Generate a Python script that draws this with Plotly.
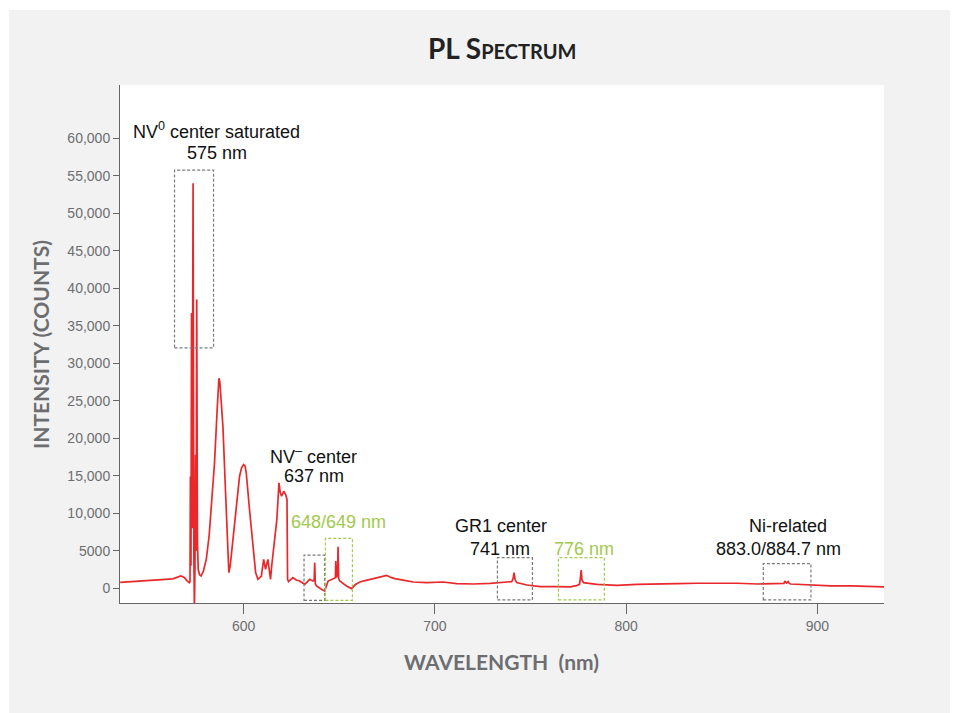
import plotly.graph_objects as go

# ---- data ----
wavelength_nm = [
    535.5, 545, 555, 563, 567.2, 569, 570.5, 571.7, 572.0, 572.2, 572.5, 572.8, 573.1,
    573.6, 574.0, 574.3, 574.6, 574.9, 575.2, 575.5, 575.9, 576.3, 577.0, 577.8, 579,
    580.5, 582, 583.1, 584.8, 586.2, 587.1, 587.6, 588.2, 589.2, 590.6, 591.5, 592.3,
    593.0, 594.4, 596.2, 597.9, 599.0, 600.0, 600.8, 601.4, 603.1, 604.9, 606.3, 607.5,
    609.3, 610.5, 611.5, 612.7, 613.6, 614.1, 614.7, 616.2, 617.4, 618.5, 619.2, 619.9,
    621.0, 622.0, 622.7, 623.0, 623.5, 625.8, 627.5, 629.3, 632.0, 634.6, 636.3, 636.9,
    637.2, 637.5, 638.1, 640.7, 642.4, 644.2, 646, 647.7, 648.0, 648.2, 648.5, 649.1,
    649.4, 649.7, 650.3, 653.8, 656.4, 658.5, 660.8, 663, 666, 668.5, 671.2, 674.8, 677,
    679.1, 683.4, 688.7, 695.7, 700, 704.4, 711.4, 720.1, 728.9, 735.8, 740.2, 740.9,
    741.4, 741.9, 742.8, 748.1, 755.1, 763.8, 770.8, 774, 775.6, 776.1, 776.5, 776.9,
    777.7, 784.7, 795.2, 805.7, 816.2, 826.7, 837.1, 847.6, 858.1, 868.6, 879.1, 882.5,
    883.0, 883.8, 884.7, 885.3, 886, 896.5, 907, 917.5, 928, 935,
]
intensity_counts = [
    800, 930, 1060, 1250, 1640, 1450, 1000, 760, 900, 14900, 3000, 36700, 8000,
    54000, 5000, -3000, 3000, 17800, 5000, 38500, 6000, 2500, 1800, 1640, 2300,
    3860, 7000, 10500, 16700, 23800, 28000, 27500, 25500, 21600, 12700, 6080, 2090,
    2970, 6520, 11400, 14940, 16100, 16500, 16300, 15400, 10500, 5630, 2090, 1200,
    1640, 3860, 2530, 3860, 2090, 1200, 2970, 6080, 9180, 14060, 12730, 12280,
    12940, 12500, 11840, 1200, 900, 1420, 1100, 970, 530, 1200, 970, 1100,
    3420, 600, 310, -130, -360, 970, 1150, 1290, 1400, 3630, 1500, 1600,
    5540, 1300, 970, 310, -40, 500, 840, 1000, 1200, 1350, 1550, 1730, 1450,
    1290, 1100, 840, 760, 800, 840, 620, 570, 650, 760, 890, 1300,
    2090, 1200, 760, 440, 220, 220, 180, 350, 530, 1400, 2440, 1100,
    760, 530, 400, 530, 530, 620, 670, 710, 670, 570, 620, 650,
    970, 700, 900, 650, 570, 400, 310, 310, 220, 180,
]

x_tick_vals = [600, 700, 800, 900]
y_tick_vals = [0, 5000, 10000, 15000, 20000, 25000, 30000, 35000, 40000, 45000, 50000, 55000, 60000]
y_tick_text = ["0", "5000", "10,000", "15,000", "20,000", "25,000", "30,000", "35,000",
               "40,000", "45,000", "50,000", "55,000", "60,000"]

# dashed boxes
box_x0 = [563.9, 631.6, 642.8, 732.7, 764.6, 871.7]
box_x1 = [584.3, 642.4, 656.9, 751.0, 788.6, 896.6]
box_y0 = [32060, -1600, -1600, -1550, -1550, -1550]
box_y1 = [55740, 4430, 6650, 4080, 4080, 3290]
box_kind = ["grey", "grey", "green", "grey", "green", "grey"]

# labels
label_text = ["NV<sup>0</sup> center saturated", "575 nm", "NV<sup>–</sup> center", "637 nm",
              "648/649 nm", "GR1 center", "741 nm", "776 nm", "Ni-related", "883.0/884.7 nm"]
label_x = [585.9, 585.9, 636.7, 636.7, 649.8, 734.6, 734.1, 778.1, 884.4, 879.7]
label_y = [60970, 58040, 17770, 14970, 8840, 8310, 5240, 5240, 8310, 5240]
label_kind = ["black", "black", "black", "black", "green", "black", "black", "green", "black", "black"]

RED = "#e8282b"
GREY_BOX = "#7a7a7a"
GREEN = "#a2c94c"
AXIS_GREY = "#6d6e71"
PANEL = "#f2f2f2"

fig = go.Figure()
fig.add_trace(go.Scatter(x=wavelength_nm, y=intensity_counts, mode="lines",
                         line=dict(color=RED, width=1.7), hoverinfo="x+y"))

W, H = 954, 713
L, R, T, B = 120, 70, 85, 110
pw, ph = W - L - R, H - T - B

def px_x(px):
    return (px - L) / pw

def px_y(py):
    return (H - B - py) / ph

shapes = [
    dict(type="rect", xref="paper", yref="paper", x0=px_x(9), x1=px_x(950),
         y0=px_y(713), y1=px_y(10), fillcolor=PANEL, line=dict(width=0), layer="below"),
    dict(type="rect", xref="paper", yref="paper", x0=0, x1=1, y0=0, y1=1,
         fillcolor="white", line=dict(width=0), layer="below"),
]
for x0, x1, y0, y1, k in zip(box_x0, box_x1, box_y0, box_y1, box_kind):
    shapes.append(dict(type="rect", xref="x", yref="y", x0=x0, x1=x1, y0=y0, y1=y1,
                       line=dict(color=GREY_BOX if k == "grey" else GREEN, width=1.2, dash="3px,2px"),
                       fillcolor="rgba(0,0,0,0)", layer="above"))

annotations = []
for t, x, y, k in zip(label_text, label_x, label_y, label_kind):
    annotations.append(dict(text=t, x=x, y=y, xref="x", yref="y", showarrow=False,
                            font=dict(family="Liberation Sans, Arial, sans-serif", size=18,
                                      color="#111" if k == "black" else GREEN),
                            xanchor="center", yanchor="middle"))

annotations.append(dict(text="PL Spectrum", x=px_x(502), y=px_y(48), xref="paper", yref="paper",
                        showarrow=False, xanchor="center", yanchor="middle",
                        font=dict(family="Lato, sans-serif", size=28, color="#222",
                                  weight="bold", variant="small-caps")))
annotations.append(dict(text="WAVELENGTH  (nm)", x=px_x(501), y=px_y(661), xref="paper", yref="paper",
                        showarrow=False, xanchor="center", yanchor="middle",
                        font=dict(family="Lato, sans-serif", size=21, color=AXIS_GREY, weight="bold")))
annotations.append(dict(text="INTENSITY (COUNTS)", x=px_x(40), y=px_y(345), xref="paper", yref="paper",
                        showarrow=False, xanchor="center", yanchor="middle", textangle=-90,
                        font=dict(family="Lato, sans-serif", size=21, color=AXIS_GREY, weight="bold")))

fig.update_layout(
    width=W, height=H, margin=dict(l=L, r=R, t=T, b=B),
    paper_bgcolor="white", plot_bgcolor="white", showlegend=False,
    shapes=shapes, annotations=annotations,
    xaxis=dict(range=[535.4, 934.8], tickvals=x_tick_vals, ticks="outside", ticklen=10,
               tickcolor="#666", showline=True, linecolor="#666", linewidth=1,
               showgrid=False, zeroline=False,
               tickfont=dict(family="Liberation Sans, Arial, sans-serif", size=14, color=AXIS_GREY)),
    yaxis=dict(range=[-1960, 67100], tickvals=y_tick_vals, ticktext=y_tick_text,
               ticks="outside", ticklen=6, tickcolor="#666", showline=True, linecolor="#666",
               linewidth=1, showgrid=False, zeroline=False,
               tickfont=dict(family="Liberation Sans, Arial, sans-serif", size=14, color=AXIS_GREY)),
)

fig.write_html("out.html")
